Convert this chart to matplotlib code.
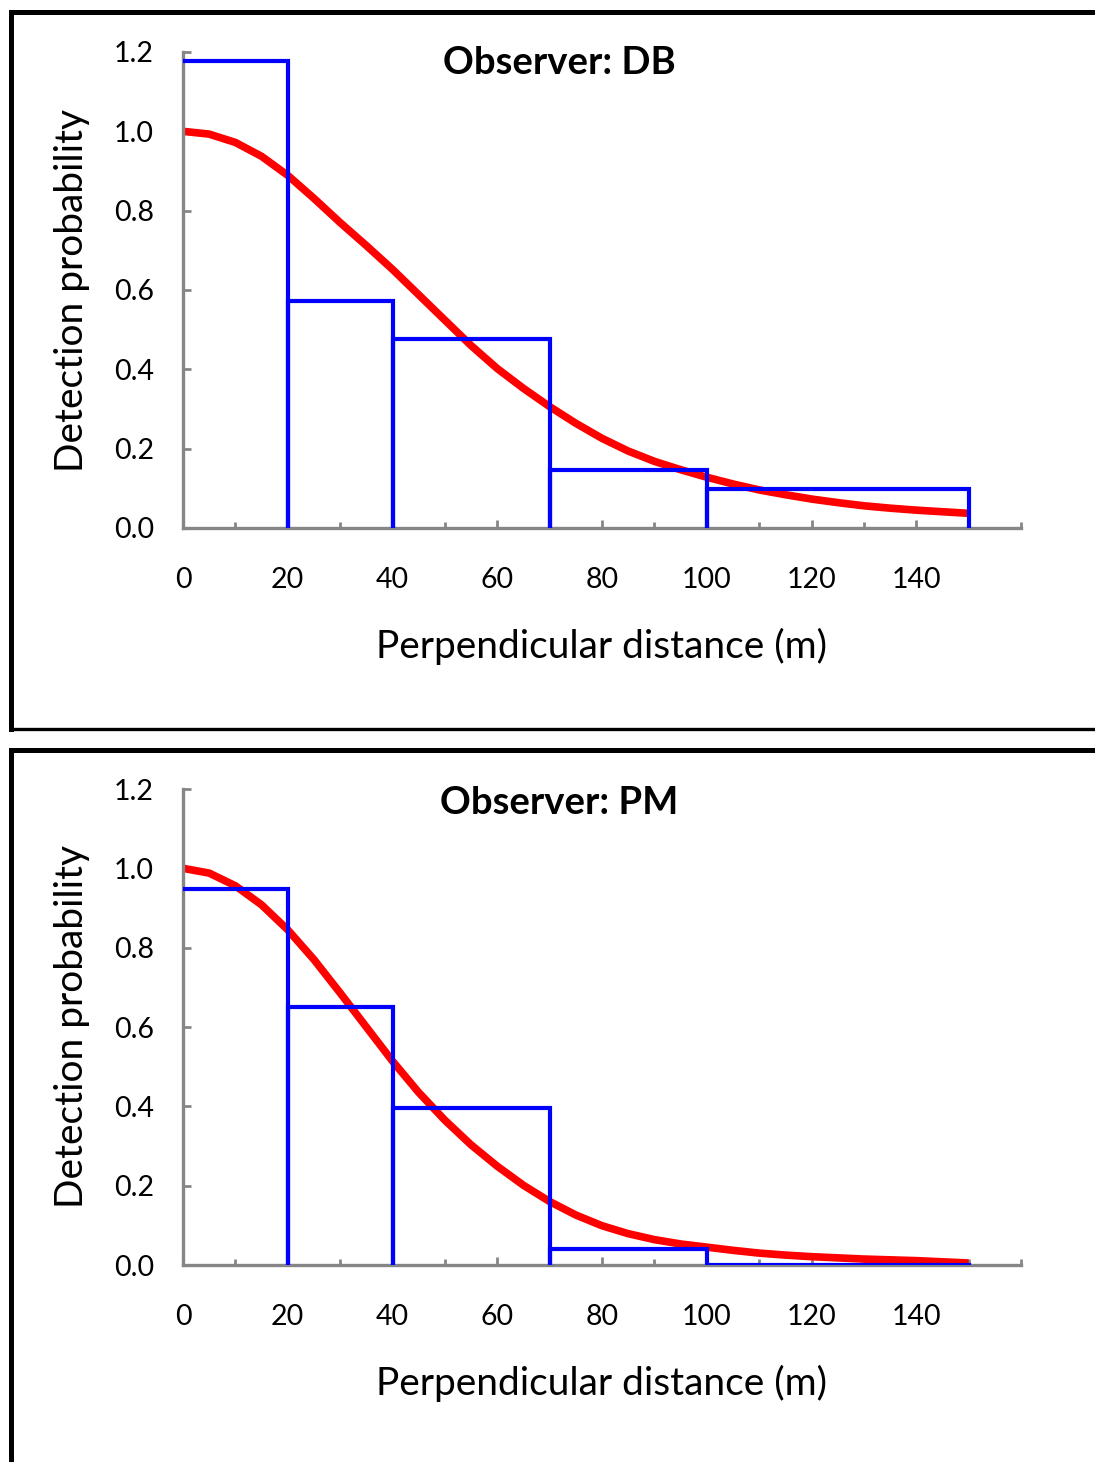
import matplotlib
matplotlib.use('Agg')
import matplotlib.pyplot as plt
from matplotlib.lines import Line2D
from matplotlib.ticker import MultipleLocator

plt.rcParams['font.family'] = ['Lato', 'DejaVu Sans']

# distance bins and scaled detection histograms
bin_edges = [0, 20, 40, 70, 100, 150]
db_hist = [1.177, 0.572, 0.476, 0.146, 0.098]
pm_hist = [0.948, 0.650, 0.396, 0.040, 0.0]

# fitted detection functions (every 5 m)
fit_x = [0, 5, 10, 15, 20, 25, 30, 35, 40, 45, 50, 55, 60, 65, 70, 75,
         80, 85, 90, 95, 100, 105, 110, 115, 120, 125, 130, 135, 140, 145, 150]
db_fit = [1.000, 0.993, 0.972, 0.937, 0.889, 0.831, 0.770, 0.712, 0.652, 0.588,
          0.524, 0.460, 0.402, 0.352, 0.306, 0.264, 0.226, 0.194, 0.168, 0.147,
          0.128, 0.111, 0.096, 0.084, 0.073, 0.064, 0.056, 0.050, 0.045, 0.041, 0.037]
pm_fit = [1.000, 0.988, 0.956, 0.908, 0.845, 0.770, 0.686, 0.600, 0.514, 0.435,
          0.365, 0.303, 0.249, 0.201, 0.160, 0.126, 0.099, 0.079, 0.064, 0.053,
          0.045, 0.037, 0.030, 0.025, 0.021, 0.018, 0.015, 0.013, 0.011, 0.008, 0.005]

panels = [('Observer: DB', db_hist, db_fit), ('Observer: PM', pm_hist, pm_fit)]

W, H = 1095, 1462
GREY = '#868686'

fig = plt.figure(figsize=(W / 100, H / 100), dpi=100)
fig.patch.set_facecolor('white')


def fx(px):
    return px / W


def fy(py):
    return 1 - py / H


def step_path(edges, heights):
    # outline drawn like the original: top of each bin, then down to the axis
    xs, ys = [], []
    for i, h in enumerate(heights):
        xs += [edges[i], edges[i + 1], edges[i + 1]]
        ys += [h, h, 0]
    return xs, ys


# axes placement in pixels: (left, x-axis y, top)
boxes = [(183, 528, 52), (183, 1265, 789)]

for (title, hist, fit), (left, y0, y1) in zip(panels, boxes):
    ax = fig.add_axes([fx(left), fy(y0), (1021 - left) / W, (y0 - y1) / H])
    ax.set_xlim(0, 160)
    ax.set_ylim(0, 1.2)
    ax.set_facecolor('none')

    ax.plot(fit_x, fit, color='#ff0000', lw=5.5, solid_capstyle='butt',
            solid_joinstyle='round', zorder=2)
    hx, hy = step_path(bin_edges, hist)
    ax.plot(hx, hy, color='#0000ff', lw=3, solid_joinstyle='miter', zorder=3)

    for s in ['top', 'right']:
        ax.spines[s].set_visible(False)
    for s in ['left', 'bottom']:
        ax.spines[s].set_color(GREY)
        ax.spines[s].set_linewidth(2.4)

    ax.set_xticks([0, 20, 40, 60, 80, 100, 120, 140])
    ax.xaxis.set_minor_locator(MultipleLocator(10))
    ax.set_yticks([0, 0.2, 0.4, 0.6, 0.8, 1.0, 1.2])
    ax.set_yticklabels(['%.1f' % v for v in ax.get_yticks()])
    ax.tick_params(axis='x', which='major', direction='in', length=6, width=2,
                   color=GREY, pad=28, labelsize=20.5)
    ax.tick_params(axis='x', which='minor', direction='in', length=4.5, width=2,
                   color=GREY)
    ax.tick_params(axis='y', direction='in', length=6, width=2, color=GREY,
                   pad=21, labelsize=20.5)

    ax.set_xlabel('Perpendicular distance (m)', fontsize=28)
    ax.xaxis.label.set_va('center')
    ax.xaxis.set_label_coords(0.5, -0.248)
    ax.set_ylabel('Detection probability', fontsize=28)
    ax.yaxis.label.set_va('center')
    ax.yaxis.set_label_coords(-0.1325, 0.5)

    ty = 0.977 if title.endswith('DB') else 0.971
    ax.text(0.449, ty, title, transform=ax.transAxes, ha='center', va='center',
            fontsize=27.5, fontweight='bold')

# black frames around each panel (cut off by the page edge)
frame = dict(color='black', solid_capstyle='projecting')
fig.add_artist(Line2D([fx(10.5), fx(1200)], [fy(12), fy(12)], lw=3.6, **frame))
fig.add_artist(Line2D([fx(10.5), fx(10.5)], [fy(12), fy(729)], lw=3.6, **frame))
fig.add_artist(Line2D([fx(10.5), fx(1200)], [fy(729), fy(729)], lw=2.4, **frame))
fig.add_artist(Line2D([fx(10.5), fx(1200)], [fy(750), fy(750)], lw=3.6, **frame))
fig.add_artist(Line2D([fx(10.5), fx(10.5)], [fy(750), fy(1600)], lw=3.6, **frame))

fig.savefig('out.png', dpi=100)
